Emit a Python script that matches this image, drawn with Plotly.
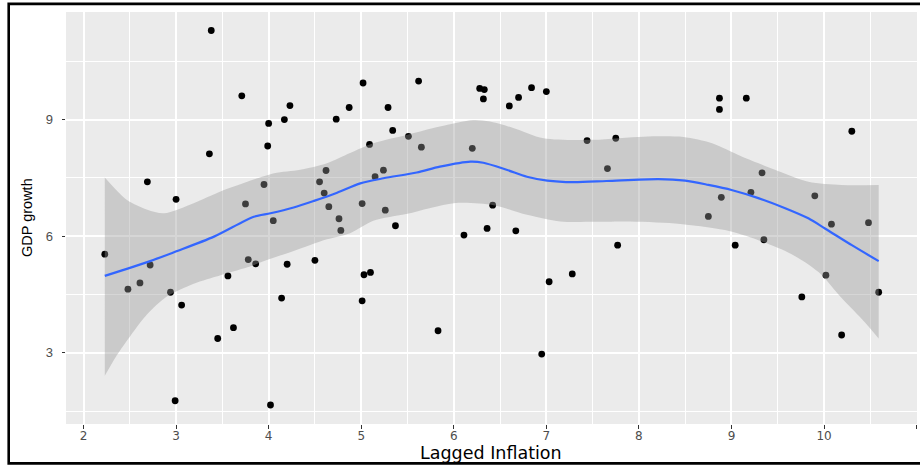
import plotly.graph_objects as go

# ---- data ----
lagged_inflation = [2.23, 2.48, 2.61, 2.69, 2.72, 2.94, 3.00, 3.06, 2.99, 3.38,
                    3.36, 3.45, 3.56, 3.62, 3.71, 3.75, 3.78, 3.86, 3.95, 3.99,
                    4.00, 4.02, 4.05, 4.14, 4.17, 4.20, 4.23, 4.50, 4.55, 4.60,
                    4.62, 4.65, 4.73, 4.76, 4.78, 4.87, 5.01, 5.01, 5.02, 5.03,
                    5.09, 5.10, 5.15, 5.24, 5.26, 5.29, 5.34, 5.37, 5.51, 5.62,
                    5.65, 5.83, 6.11, 6.20, 6.28, 6.33, 6.32, 6.36, 6.42, 6.60,
                    6.67, 6.70, 6.84, 6.95, 7.00, 7.03, 7.28, 7.44, 7.66, 7.75,
                    7.77, 8.75, 8.87, 8.87, 8.89, 9.04, 9.16, 9.21, 9.33, 9.35,
                    9.76, 9.90, 10.02, 10.08, 10.19, 10.30, 10.48, 10.59]
gdp_growth = [5.54, 4.64, 4.80, 7.40, 5.26, 4.56, 6.95, 4.23, 1.77, 11.29,
              8.12, 3.37, 4.98, 3.65, 9.61, 6.83, 5.40, 5.29, 7.33, 8.32,
              8.90, 1.66, 6.40, 4.41, 9.00, 5.28, 9.36, 5.38, 7.40, 7.11,
              7.69, 6.76, 9.01, 6.45, 6.15, 9.31, 6.84, 4.34, 9.94, 5.01,
              8.36, 5.07, 7.53, 7.70, 6.67, 9.31, 8.72, 6.27, 8.57, 9.99,
              8.29, 3.57, 6.03, 8.26, 9.80, 9.77, 9.53, 6.20, 6.80, 9.35,
              6.14, 9.57, 9.82, 2.97, 9.72, 4.83, 5.03, 8.46, 7.74, 8.52,
              5.77, 6.51, 9.26, 9.55, 7.00, 5.77, 9.55, 7.13, 7.63, 5.91,
              4.44, 7.04, 5.00, 6.31, 3.46, 8.70, 6.35, 4.56]

smooth_x = [2.23, 2.72, 2.99, 3.41, 3.84, 4.02, 4.27, 4.49, 4.74, 4.99,
            5.24, 5.60, 5.85, 6.18, 6.32, 6.57, 6.79, 7.01, 7.29, 7.65,
            8.21, 8.50, 8.75, 9.00, 9.29, 9.58, 9.83, 10.01, 10.30, 10.59]
smooth_y = [4.98, 5.36, 5.60, 5.99, 6.50, 6.59, 6.74, 6.91, 7.12, 7.36,
            7.49, 7.64, 7.79, 7.92, 7.89, 7.71, 7.53, 7.43, 7.39, 7.42,
            7.47, 7.43, 7.32, 7.19, 6.98, 6.72, 6.46, 6.20, 5.77, 5.36]

band_upper_x = [2.23, 2.47, 2.69, 2.87, 3.19, 3.48, 3.77, 4.06, 4.34, 4.63,
                4.88, 5.13, 5.50, 5.85, 6.21, 6.39, 6.65, 6.97, 7.51, 8.05,
                8.48, 8.79, 9.11, 9.47, 9.83, 10.19, 10.59]
band_upper_y = [7.51, 6.93, 6.68, 6.59, 6.85, 7.15, 7.40, 7.62, 7.71, 7.88,
                8.14, 8.39, 8.61, 8.82, 8.99, 8.95, 8.78, 8.52, 8.48, 8.56,
                8.55, 8.39, 8.05, 7.71, 7.40, 7.32, 7.32]
band_lower_x = [2.23, 2.36, 2.51, 2.69, 2.90, 3.19, 3.48, 3.77, 4.02, 4.27,
                4.63, 4.88, 5.13, 5.50, 6.00, 6.43, 6.79, 7.15, 7.51, 7.85,
                8.39, 8.93, 9.29, 9.65, 9.94, 10.19, 10.44, 10.59]
band_lower_y = [2.41, 2.94, 3.45, 4.00, 4.45, 4.78, 5.00, 5.20, 5.42, 5.62,
                5.92, 6.08, 6.40, 6.58, 6.85, 6.80, 6.55, 6.38, 6.37, 6.38,
                6.33, 6.16, 5.90, 5.54, 5.08, 4.41, 3.79, 3.37]

x_ticks = [2, 3, 4, 5, 6, 7, 8, 9, 10, 11]
y_ticks = [3, 6, 9]

fig = go.Figure()

fig.add_trace(go.Scatter(
    x=lagged_inflation, y=gdp_growth, mode="markers",
    marker=dict(color="black", size=6.8, line=dict(width=0)),
    hoverinfo="skip", showlegend=False))

fig.add_trace(go.Scatter(
    x=band_lower_x, y=band_lower_y, mode="lines",
    line=dict(width=0, shape="spline", smoothing=0.8),
    hoverinfo="skip", showlegend=False))
fig.add_trace(go.Scatter(
    x=band_upper_x, y=band_upper_y, mode="lines",
    line=dict(width=0, shape="spline", smoothing=0.8),
    fill="tonexty", fillcolor="rgba(153,153,153,0.4)",
    hoverinfo="skip", showlegend=False))

fig.add_trace(go.Scatter(
    x=smooth_x, y=smooth_y, mode="lines",
    line=dict(color="#3366FF", width=2.2, shape="spline", smoothing=0.8),
    hoverinfo="skip", showlegend=False))

L, R, T, B = 66, 3, 12.3, 42.3
W, H = 920, 466
pw = W - L - R
ph = H - T - B

def px_to_paper_x(px):
    return (px - L) / pw

def px_to_paper_y(py):
    return (H - B - py) / ph

fig.update_layout(
    width=W, height=H,
    margin=dict(l=L, r=R, t=T, b=B, pad=0, autoexpand=False),
    paper_bgcolor="white",
    plot_bgcolor="#EBEBEB",
    showlegend=False,
    xaxis=dict(
        range=[1.811, 11.004], tickmode="array", tickvals=x_ticks,
        ticktext=[str(v) for v in x_ticks], automargin=False,
        showgrid=True, gridcolor="white", gridwidth=1.8,
        minor=dict(dtick=0.5, tick0=0, showgrid=True, gridcolor="white",
                   gridwidth=0.9, ticklen=0),
        zeroline=False, showline=False,
        ticks="outside", ticklen=3.5, tickwidth=1.1, tickcolor="#333333",
        ticklabelstandoff=-3,
        tickfont=dict(family="DejaVu Sans", size=12, color="#4D4D4D"),
    ),
    yaxis=dict(
        range=[1.172, 11.766], tickmode="array", tickvals=y_ticks,
        ticktext=[str(v) for v in y_ticks], automargin=False,
        showgrid=True, gridcolor="white", gridwidth=1.8,
        minor=dict(dtick=1.5, tick0=0, showgrid=True, gridcolor="white",
                   gridwidth=0.9, ticklen=0),
        zeroline=False, showline=False,
        ticks="outside", ticklen=3.5, tickwidth=1.1, tickcolor="#333333",
        ticklabelstandoff=6,
        tickfont=dict(family="Liberation Sans", size=13, color="#4D4D4D"),
    ),
)

fig.add_annotation(
    text="Lagged Inflation", xref="paper", yref="paper",
    x=px_to_paper_x(491), y=px_to_paper_y(453),
    xanchor="center", yanchor="middle", showarrow=False,
    font=dict(family="DejaVu Sans", size=17.5, color="black"))

fig.add_annotation(
    text="GDP growth", xref="paper", yref="paper",
    x=px_to_paper_x(27.5), y=px_to_paper_y(217.5), textangle=-90,
    xanchor="center", yanchor="middle", showarrow=False,
    font=dict(family="Liberation Sans", size=14.5, color="black"))

# outer frame of the picture
fig.add_shape(
    type="rect", xref="paper", yref="paper", layer="above",
    x0=px_to_paper_x(8.7), x1=px_to_paper_x(930),
    y0=px_to_paper_y(463), y1=px_to_paper_y(4.2),
    line=dict(color="black", width=2.6), fillcolor="rgba(0,0,0,0)")

fig.write_html(
    "out.html",
    config={"displayModeBar": False},
    post_script="document.body.style.margin='0';document.body.style.overflow='hidden';",
)
